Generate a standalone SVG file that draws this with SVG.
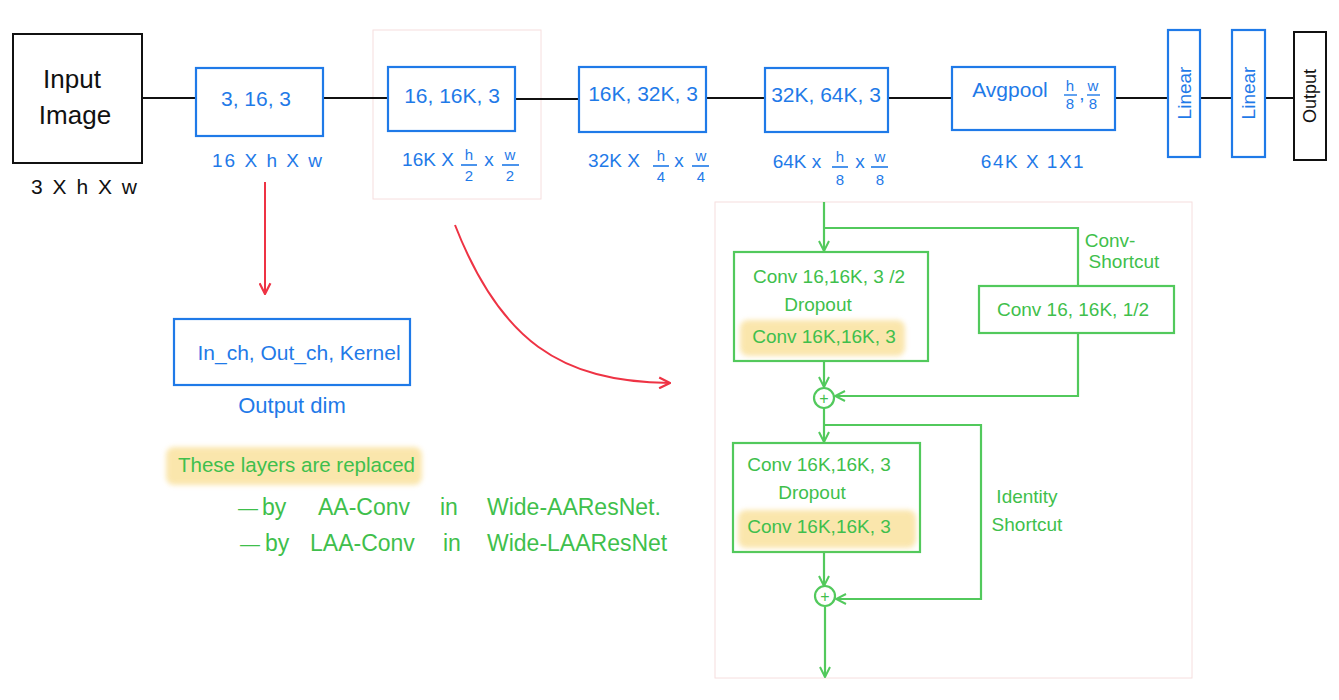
<svg xmlns="http://www.w3.org/2000/svg" width="1339" height="700" viewBox="0 0 1339 700">
<style>
text{font-family:"Liberation Sans",Arial,sans-serif}
.blk{fill:none;stroke:#111;stroke-width:2}
.blu{fill:none;stroke:#1f7ae8;stroke-width:2.2}
.grn{fill:none;stroke:#52c95c;stroke-width:2.2}
.red{fill:none;stroke:#ee3344;stroke-width:2}
.faint{fill:none;stroke:#f6dede;stroke-width:1}
.tb{fill:#1f7ae8;font-size:21px;text-anchor:middle}
.tbs{fill:#1f7ae8;font-size:19px;text-anchor:middle}
.tf{fill:#1f7ae8;font-size:15px;text-anchor:middle}
.tg{fill:#3fbf4c;font-size:19px;text-anchor:middle}
.tgl{fill:#3fbf4c;font-size:23px}
.tk{fill:#111;text-anchor:middle}
.hl{fill:#f7d26b;opacity:0.55}
</style>
<defs>
<marker id="ag" viewBox="0 0 12 12" refX="11" refY="6" markerWidth="12" markerHeight="12" markerUnits="userSpaceOnUse" orient="auto"><path d="M1,1 L11,6 L1,11" fill="none" stroke="#52c95c" stroke-width="2"/></marker>
<marker id="ar" viewBox="0 0 12 12" refX="11" refY="6" markerWidth="13" markerHeight="13" markerUnits="userSpaceOnUse" orient="auto"><path d="M1,1 L11,6 L1,11" fill="none" stroke="#ee3344" stroke-width="2"/></marker>
<filter id="blur" x="-10%" y="-30%" width="120%" height="160%"><feGaussianBlur stdDeviation="2.5"/></filter>
</defs>

<rect class="faint" x="373" y="30" width="168" height="169"/>
<rect class="faint" x="715" y="202" width="477" height="476"/>

<g id="connectors">
<line class="blk" x1="142" y1="98" x2="196" y2="98"/>
<line class="blk" x1="323" y1="98" x2="388" y2="98"/>
<line class="blk" x1="515" y1="99" x2="579" y2="99"/>
<line class="blk" x1="706" y1="98" x2="765" y2="98"/>
<line class="blk" x1="888" y1="98" x2="952" y2="98"/>
<line class="blk" x1="1115" y1="98" x2="1168" y2="98"/>
<line class="blk" x1="1200" y1="98" x2="1232" y2="98"/>
<line class="blk" x1="1265" y1="98" x2="1294" y2="98"/>
<line class="red" x1="265" y1="182" x2="265" y2="294" marker-end="url(#ar)"/>
<path class="red" d="M455,225 C500,340 560,382 670,383" marker-end="url(#ar)"/>
<line class="grn" x1="824" y1="202" x2="824" y2="251" marker-end="url(#ag)"/>
<polyline class="grn" points="824,228 1078,228 1078,286"/>
<line class="grn" x1="824" y1="361" x2="824" y2="387" marker-end="url(#ag)"/>
<polyline class="grn" points="1078,333 1078,396 835,396" marker-end="url(#ag)"/>
<line class="grn" x1="824" y1="408" x2="824" y2="442" marker-end="url(#ag)"/>
<polyline class="grn" points="824,425 981,425 981,599 836,599" marker-end="url(#ag)"/>
<line class="grn" x1="824" y1="552" x2="824" y2="586" marker-end="url(#ag)"/>
<line class="grn" x1="825" y1="607" x2="825" y2="677" marker-end="url(#ag)"/>
</g>

<g id="input">
<rect class="blk" x="13" y="34" width="129" height="129"/>
<text class="tk" x="72" y="88" font-size="26">Input</text>
<text class="tk" x="75" y="124" font-size="26">Image</text>
<text class="tk" x="85" y="194" font-size="21" letter-spacing="2">3 X h X w</text>
</g>

<g id="conv1">
<rect class="blu" x="196" y="68" width="127" height="68"/>
<text class="tb" x="256" y="106">3, 16, 3</text>
<text class="tbs" x="268" y="167" letter-spacing="2">16 X h X w</text>
</g>

<g id="conv2">
<rect class="blu" x="388" y="67" width="127" height="64"/>
<text class="tb" x="452" y="103">16, 16K, 3</text>
<text class="tbs" x="428" y="166">16K X</text>
<text class="tf" x="469" y="160">h</text>
<line x1="461" y1="165" x2="477" y2="165" stroke="#1f7ae8" stroke-width="1.6"/>
<text class="tf" x="469" y="181">2</text>
<text class="tbs" x="489" y="166">x</text>
<text class="tf" x="510" y="160">w</text>
<line x1="502" y1="165" x2="519" y2="165" stroke="#1f7ae8" stroke-width="1.6"/>
<text class="tf" x="510" y="181">2</text>
</g>

<g id="conv3">
<rect class="blu" x="579" y="67" width="127" height="65"/>
<text class="tb" x="643" y="101">16K, 32K, 3</text>
<text class="tbs" x="614" y="167">32K X</text>
<text class="tf" x="661" y="161">h</text>
<line x1="653" y1="166" x2="669" y2="166" stroke="#1f7ae8" stroke-width="1.6"/>
<text class="tf" x="661" y="182">4</text>
<text class="tbs" x="679" y="167">x</text>
<text class="tf" x="701" y="161">w</text>
<line x1="692" y1="166" x2="709" y2="166" stroke="#1f7ae8" stroke-width="1.6"/>
<text class="tf" x="701" y="182">4</text>
</g>

<g id="conv4">
<rect class="blu" x="765" y="68" width="123" height="64"/>
<text class="tb" x="826" y="102">32K, 64K, 3</text>
<text class="tbs" x="797" y="168">64K x</text>
<text class="tf" x="840" y="162">h</text>
<line x1="832" y1="167" x2="848" y2="167" stroke="#1f7ae8" stroke-width="1.6"/>
<text class="tf" x="840" y="185">8</text>
<text class="tbs" x="860" y="168">x</text>
<text class="tf" x="880" y="162">w</text>
<line x1="871" y1="167" x2="888" y2="167" stroke="#1f7ae8" stroke-width="1.6"/>
<text class="tf" x="880" y="185">8</text>
</g>

<g id="avgpool">
<rect class="blu" x="952" y="67" width="163" height="63"/>
<text class="tb" x="1010" y="97">Avgpool</text>
<text class="tf" x="1070" y="91">h</text>
<line x1="1064" y1="95" x2="1077" y2="95" stroke="#1f7ae8" stroke-width="1.4"/>
<text class="tf" x="1070" y="109">8</text>
<text class="tbs" x="1082" y="100">,</text>
<text class="tf" x="1093" y="91">w</text>
<line x1="1087" y1="95" x2="1100" y2="95" stroke="#1f7ae8" stroke-width="1.4"/>
<text class="tf" x="1093" y="109">8</text>
<text class="tbs" x="1033" y="168" letter-spacing="1.5">64K X 1X1</text>
</g>

<g id="linear1">
<rect class="blu" x="1168" y="30" width="32" height="127"/>
<text class="tbs" transform="translate(1191,93) rotate(-90)">Linear</text>
</g>
<g id="linear2">
<rect class="blu" x="1232" y="30" width="33" height="127"/>
<text class="tbs" transform="translate(1255,93) rotate(-90)">Linear</text>
</g>
<g id="output">
<rect class="blk" x="1294" y="32" width="32" height="128"/>
<text class="tk" font-size="18" transform="translate(1316,96) rotate(-90)">Output</text>
</g>

<g id="legend">
<rect class="blu" x="174" y="319" width="236" height="66"/>
<text class="tbs" x="299" y="360" style="font-size:21px">In_ch, Out_ch, Kernel</text>
<text class="tbs" x="292" y="413" style="font-size:22px">Output dim</text>
</g>

<g id="note">
<rect class="hl" x="166" y="447" width="256" height="38" rx="8" filter="url(#blur)"/>
<text class="tgl" x="178" y="472" style="font-size:20.5px">These layers are replaced</text>
<text class="tgl" x="238" y="515" style="font-size:20px">—</text>
<text class="tgl" x="262" y="515">by</text>
<text class="tgl" x="318" y="515">AA-Conv</text>
<text class="tgl" x="440" y="515">in</text>
<text class="tgl" x="487" y="515">Wide-AAResNet.</text>
<text class="tgl" x="240" y="551" style="font-size:20px">—</text>
<text class="tgl" x="265" y="551">by</text>
<text class="tgl" x="310" y="551">LAA-Conv</text>
<text class="tgl" x="443" y="551">in</text>
<text class="tgl" x="487" y="551">Wide-LAAResNet</text>
</g>

<g id="blockA">
<rect class="grn" x="734" y="252" width="194" height="109"/>
<rect class="hl" x="740" y="320" width="165" height="36" rx="8" filter="url(#blur)"/>
<text class="tg" x="829" y="283">Conv 16,16K, 3 /2</text>
<text class="tg" x="818" y="311">Dropout</text>
<text class="tg" x="824" y="343">Conv 16K,16K, 3</text>
</g>

<g id="shortcut">
<rect class="grn" x="979" y="286" width="195" height="47"/>
<text class="tg" x="1073" y="316">Conv 16, 16K, 1/2</text>
<text class="tg" x="1110" y="247">Conv-</text>
<text class="tg" x="1124" y="268">Shortcut</text>
</g>

<g id="add1">
<circle class="grn" cx="824" cy="398" r="10"/>
<text class="tg" x="824" y="404" style="font-size:16px">+</text>
</g>

<g id="blockB">
<rect class="grn" x="733" y="443" width="187" height="109"/>
<rect class="hl" x="738" y="510" width="178" height="38" rx="8" filter="url(#blur)"/>
<text class="tg" x="819" y="471">Conv 16K,16K, 3</text>
<text class="tg" x="812" y="499">Dropout</text>
<text class="tg" x="819" y="533">Conv 16K,16K, 3</text>
<text class="tg" x="1027" y="503">Identity</text>
<text class="tg" x="1027" y="531">Shortcut</text>
</g>

<g id="add2">
<circle class="grn" cx="825" cy="596" r="10"/>
<text class="tg" x="825" y="602" style="font-size:16px">+</text>
</g>
</svg>
